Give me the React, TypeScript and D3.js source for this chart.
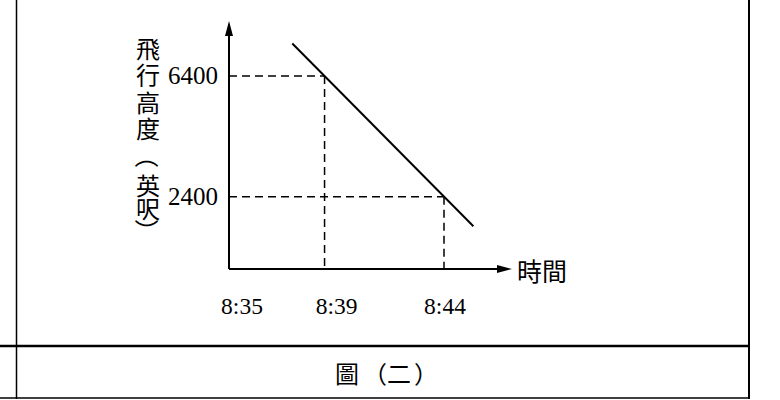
import React from "react";
import * as d3 from "d3";

// minutes after 8:35 on the time axis
const timeLabels = ["8:35", "8:39", "8:44"];
const timeMinutes = [0, 4, 9];
const altitudeTicks = [6400, 2400];
const guideMinutes = [4, 9];
const guideAltitudes = [6400, 2400];
const lineMinutes = [2.65, 10.23];
const lineAltitudes = [7480, 1416];
const yTitleChars = ["飛", "行", "高", "度", "（", "英", "呎", "）"];
const xTitle = "時間";
const captionChars = ["圖", "（", "二", "）"];

const W = 780;
const H = 400;
const serif = "'Liberation Serif', 'Times New Roman', serif";
const cjk = "'Noto Sans CJK TC', 'Noto Sans CJK SC', sans-serif";

export default function App() {
  const x = d3.scaleLinear().domain([0, 9]).range([229, 444]);
  const y = d3.scaleLinear().domain([0, 6400]).range([269, 76]);

  const line = d3
    .line<number>()
    .x((m) => x(m))
    .y((_, i) => y(lineAltitudes[i]));

  const x0 = x(0);
  const y0 = y(0);
  const timeLabelDx = [13, 12, 1];
  const yTitleCenters = [47, 73, 101, 127, 156, 184, 207, 231];
  const captionCenters = [347, 375, 399, 426];

  return (
    <svg
      width={W}
      height={H}
      style={{ position: "absolute", left: 0, top: 0, background: "#fff" }}
    >
      <rect width={W} height={H} fill="#fff" />
      {/* frame */}
      <line x1={16.5} x2={16.5} y1={0} y2={399} stroke="#000" strokeWidth={1.5} />
      <line x1={749} x2={749} y1={0} y2={399} stroke="#000" strokeWidth={2} />
      <line x1={0} x2={750} y1={346} y2={346} stroke="#000" strokeWidth={2.5} />
      <line x1={0} x2={750} y1={398} y2={398} stroke="#000" strokeWidth={1.5} />

      {/* guides */}
      {guideMinutes.map((m, i) => (
        <g key={i} stroke="#000" strokeWidth={1.5} strokeDasharray="8,5" fill="none">
          <line x1={x0} x2={x(m)} y1={y(guideAltitudes[i])} y2={y(guideAltitudes[i])} />
          <line x1={x(m)} x2={x(m)} y1={y(guideAltitudes[i])} y2={y0} />
        </g>
      ))}

      {/* axes */}
      <line x1={x0} x2={x0} y1={y0} y2={30} stroke="#000" strokeWidth={2} />
      <polygon points={`${x0},21 ${x0 - 4},36 ${x0 + 4},36`} fill="#000" />
      <line x1={x0} x2={504} y1={y0} y2={y0} stroke="#000" strokeWidth={2} />
      <polygon points={`512,${y0} 497,${y0 - 4} 497,${y0 + 4}`} fill="#000" />

      {/* data line */}
      <path d={line(lineMinutes) ?? ""} fill="none" stroke="#000" strokeWidth={2} />

      {/* tick labels */}
      {altitudeTicks.map((v) => (
        <text
          key={v}
          x={218}
          y={y(v) + 8}
          textAnchor="end"
          fontFamily={serif}
          fontSize={25}
        >
          {v}
        </text>
      ))}
      {timeLabels.map((t, i) => (
        <text
          key={t}
          x={x(timeMinutes[i]) + timeLabelDx[i]}
          y={314}
          textAnchor="middle"
          fontFamily={serif}
          fontSize={23.5}
        >
          {t}
        </text>
      ))}

      {/* vertical y title; brackets turned for vertical writing */}
      {yTitleChars.map((c, i) => {
        const turned = c === "（" || c === "）";
        const cy = yTitleCenters[i];
        return (
          <g key={i} transform={`translate(148,${cy})${turned ? " rotate(90)" : ""}`}>
            <text
              textAnchor="middle"
              dominantBaseline="central"
              fontFamily={cjk}
              fontSize={24}
            >
              {c}
            </text>
          </g>
        );
      })}
      <text
        x={517}
        y={270}
        dominantBaseline="central"
        fontFamily={cjk}
        fontSize={25}
      >
        {xTitle}
      </text>
      {captionChars.map((c, i) => (
        <text
          key={i}
          x={captionCenters[i]}
          y={372}
          textAnchor="middle"
          dominantBaseline="central"
          fontFamily={cjk}
          fontSize={24}
        >
          {c}
        </text>
      ))}
    </svg>
  );
}
